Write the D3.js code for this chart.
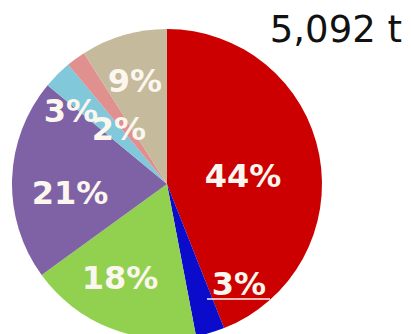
<!DOCTYPE html>
<html>
<head>
<meta charset="utf-8">
<script src="https://cdn.jsdelivr.net/npm/d3@7"></script>
<style>
  body { margin: 0; background: #fff; overflow: hidden; }
  svg { display: block; }
</style>
</head>
<body>
<div id="container"></div>
<script>
/* DATA */
const categories = ["A", "B", "C", "D", "E", "F", "G"];
const shares = [44, 3, 18, 21, 3, 2, 9];
const labels = ["44%", "3%", "18%", "21%", "3%", "2%", "9%"];
const colors = ["#cc0000", "#0b0bcc", "#92d050", "#7f62a6", "#80c8da", "#e0908e", "#c5ba9b"];
const total = "5,092 t";

/* LAYOUT */
const width = 411, height = 334;
const cx = 167, cy = 184, radius = 155;
// label offsets from pie centre (hand placed like the original)
const labelOffset = [[76, -8], [72, 100], [-47, 94], [-97, 9], [-96, -73], [-48, -55], [-32, -103]];

const svg = d3.select("#container")
  .append("svg")
  .attr("width", width)
  .attr("height", height);

const pie = d3.pie().sort(null).value(d => d.value);
const arc = d3.arc().innerRadius(0).outerRadius(radius);

const data = categories.map((c, i) => ({ cat: c, value: shares[i], label: labels[i], color: colors[i] }));

const g = svg.append("g").attr("transform", `translate(${cx},${cy})`);

g.selectAll("path.slice")
  .data(pie(data))
  .join("path")
  .attr("class", "slice")
  .attr("d", arc)
  .attr("fill", d => d.data.color);

g.selectAll("text.lbl")
  .data(pie(data))
  .join("text")
  .attr("class", "lbl")
  .attr("x", (d, i) => labelOffset[i][0])
  .attr("y", (d, i) => labelOffset[i][1])
  .attr("text-anchor", "middle")
  .attr("dominant-baseline", "central")
  .attr("fill", "#fbf6ee")
  .attr("font-family", "DejaVu Sans, Verdana, sans-serif")
  .attr("font-weight", "bold")
  .attr("font-size", 32)
  .text(d => d.data.label);

// underline (leader) under the small blue label
const bl = labelOffset[1];
g.append("line")
  .attr("x1", bl[0] - 32).attr("x2", bl[0] + 31)
  .attr("y1", bl[1] + 15).attr("y2", bl[1] + 15)
  .attr("stroke", "#fbf6ee")
  .attr("stroke-width", 1.5);

svg.append("text")
  .attr("x", 402)
  .attr("y", 42)
  .attr("text-anchor", "end")
  .attr("font-family", "DejaVu Sans, Verdana, sans-serif")
  .attr("font-size", 37)
  .attr("fill", "#111")
  .text(total);
</script>
</body>
</html>
